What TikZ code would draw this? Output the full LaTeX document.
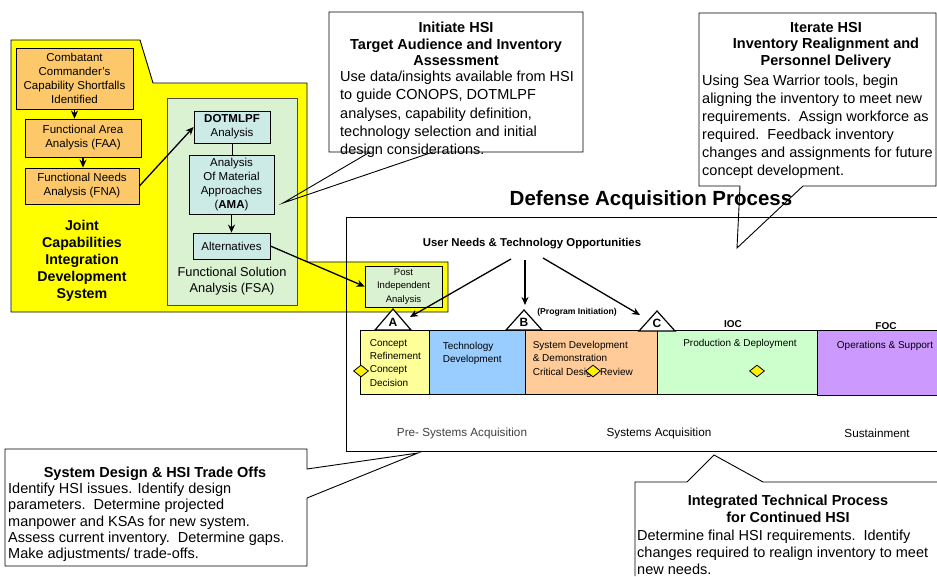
\documentclass[tikz,border=0pt]{standalone}
\usepackage{fontspec}
\setmainfont{Liberation Sans}
\usepackage{xcolor}
\usepackage{tikz}
\usetikzlibrary{calc, arrows.meta, positioning, shapes.geometric}

\definecolor{jcidsyellow}{HTML}{FFFF00}
\definecolor{taskorange}{HTML}{FCC86A}
\definecolor{fsagreen}{HTML}{DAF2D2}
\definecolor{fsacyan}{HTML}{CDEBE6}
\definecolor{crcol}{HTML}{FFFF99}
\definecolor{tdcol}{HTML}{99CCFF}
\definecolor{sddcol}{HTML}{FFCC99}
\definecolor{pdcol}{HTML}{CCFFCC}
\definecolor{oscol}{HTML}{CC99FF}

\begin{document}
\begin{tikzpicture}[x=1pt, y=-1pt, >={Stealth[length=8pt, width=7pt]}]
		\tikzstyle{task} = [draw=black, line width=0.8pt, fill=taskorange, align=center, inner sep=0pt, font=\fontsize{11.5}{14}\selectfont]
		\tikzstyle{fsabox} = [draw=black!70, line width=0.8pt, fill=fsagreen, inner sep=0pt]
		\tikzstyle{study} = [draw=black, line width=0.8pt, fill=fsacyan, align=center, inner sep=0pt, font=\fontsize{11.5}{14}\selectfont]
		\tikzstyle{phase} = [draw=black, line width=0.8pt, inner sep=0pt, minimum height=64pt]
		\tikzstyle{phasetxt} = [inner sep=0pt, align=left, anchor=north west, font=\fontsize{10}{13.3}\selectfont]
		\tikzstyle{phaselbl} = [inner sep=0pt, font=\fontsize{10}{12}\selectfont]
		\tikzstyle{stage} = [inner sep=0pt, font=\fontsize{11.7}{14}\selectfont]
		\tikzstyle{milestone} = [draw=black, line width=1.2pt, fill=white]
		\tikzstyle{mslabel} = [inner sep=0pt, font=\bfseries\fontsize{12}{12}\selectfont]
		\tikzstyle{review} = [diamond, draw=black, line width=0.8pt, fill=yellow, inner sep=0pt, minimum width=15pt, minimum height=12pt]
		\tikzstyle{callout} = [draw=black, line width=0.9pt]
		\tikzstyle{calhead} = [inner sep=0pt, align=center, font=\bfseries\fontsize{14.5}{16.5}\selectfont]
		\tikzstyle{calbody} = [inner sep=0pt, align=left, anchor=north west, font=\fontsize{14.5}{17.5}\selectfont]
		\tikzstyle{arrow} = [line width=1.3pt, ->]
		
		\useasboundingbox (0,0) rectangle (937,576);
		
		% JCIDS
		\draw[line width=0.9pt, fill=jcidsyellow] (11,40) -- (140,40) -- (153,83) -- (307,83) -- (307,262) -- (448,262) -- (448,312) -- (11,312) -- cycle;
		\node[task, minimum width=117pt, minimum height=61pt] 	at (74.5, 78.5) 	(ccsi) 	{Combatant\\Commander's\\Capability Shortfalls\\Identified};
		\node[task, minimum width=116pt, minimum height=38pt] 	at (83, 138) 		(faa) 	{Functional Area\\Analysis (FAA)};
		\node[task, minimum width=114pt, minimum height=36pt] 	at (82, 186) 		(fna) 	{Functional Needs\\Analysis (FNA)};
		\node[inner sep=0pt, align=center, font=\bfseries\fontsize{14.2}{17}\selectfont] at (82, 261) (jcidstxt) {Joint\\Capabilities\\Integration\\Development\\System};
		
		\node[fsabox, minimum width=130pt, minimum height=207pt] at (232, 201.5) 	(fsa) 	{};
		\node[inner sep=0pt, align=center, font=\fontsize{12.8}{16.5}\selectfont] at (232, 281) (fsatxt) {Functional Solution\\Analysis (FSA)};
		\node[study, minimum width=76pt, minimum height=32pt] 	at (232, 127) 		(dotmlpf) 	{\textbf{DOTMLPF}\\Analysis};
		\node[study, minimum width=85pt, minimum height=59pt] 	at (231.5, 184.5) 	(ama) 	{Analysis\\Of Material\\Approaches\\(\textbf{AMA})};
		\node[study, minimum width=77pt, minimum height=26pt] 	at (231.5, 246) 	(alt) 	{Alternatives};
		\node[study, fill=fsagreen, minimum width=77pt, minimum height=41pt, font=\fontsize{9.5}{13.5}\selectfont] at (403.5, 286.5) (post) {Post\\Independent\\Analysis};
		
		\draw[arrow] (ccsi.south) -- (ccsi.south |- faa.north);
		\draw[arrow] (faa.south) -- (faa.south |- fna.north);
		\draw[arrow] (fna.east) -- (dotmlpf.west);
		\draw[line width=1pt] (dotmlpf.south) -- (dotmlpf.south |- ama.north);
		\draw[arrow] (ama.south) -- (ama.south |- alt.north);
		\draw[arrow] (alt.east) -- (post.west);
		
		% Defense acquisition process
		\node[inner sep=0pt, font=\bfseries\fontsize{20.5}{24}\selectfont] at (651, 200) (dap) {Defense Acquisition Process};
		\draw[line width=0.9pt] (937,217) -- (346,217) -- (346,451) -- (937,451);
		\node[inner sep=0pt, font=\bfseries\fontsize{11.4}{13}\selectfont] at (532, 244) (userneeds) {User Needs \& Technology Opportunities};
		
		\node[phase, fill=crcol, minimum width=69pt] 	at (394.5, 362.5) 	(cr) 	{};
		\node[phase, fill=tdcol, minimum width=96pt] 	at (477, 362.5) 	(td) 	{};
		\node[phase, fill=sddcol, minimum width=132pt] 	at (591, 362.5) 	(sdd) 	{};
		\node[phase, fill=pdcol, minimum width=161pt] 	at (737.5, 362.5) 	(pd) 	{};
		\node[phase, draw=none, fill=oscol, minimum width=119pt] at (877.5, 362.5) (os) {};
		\draw[line width=0.8pt] (os.north east) -- (os.north west) -- (os.south west) -- (os.south east);
		
		\node[phasetxt] at ([shift={(10,9)}]cr.north west) 	(crtxt) 	{Concept\\Refinement\\Concept\\Decision};
		\node[phasetxt] at ([shift={(14,12)}]td.north west) 	(tdtxt) 	{Technology\\Development};
		\node[phasetxt] at ([shift={(8,11)}]sdd.north west) 	(sddtxt) 	{System Development\\\& Demonstration\\Critical Design Review};
		\node[phaselbl] at (740, 344) 	(pdtxt) 	{Production \& Deployment};
		\node[phaselbl] at (885, 346) 	(ostxt) 	{Operations \& Support};
		
		\node[review] at (361, 371) 	(dcd) 	{};
		\node[review] at (593, 371) 	(dcdr) 	{};
		\node[review] at (757, 371) 	(dpd) 	{};
		
		\draw[milestone] (375,330) -- (393,309) -- (411,330) -- cycle;
		\draw[milestone] (506,330) -- (524,310) -- (542,330) -- cycle;
		\draw[milestone] (639,331) -- (657,311) -- (675,331) -- cycle;
		\node[mslabel] at (393, 322) 	(msa) 	{A};
		\node[mslabel] at (524, 322.5) 	(msb) 	{B};
		\node[mslabel] at (657, 323.5) 	(msc) 	{C};
		\node[inner sep=0pt, font=\bfseries\fontsize{8.6}{10}\selectfont] at (577, 312) (progint) {(Program Initiation)};
		\node[inner sep=0pt, font=\bfseries\fontsize{10}{12}\selectfont] at (733, 324) (ioc) {IOC};
		\node[inner sep=0pt, font=\bfseries\fontsize{10}{12}\selectfont] at (886, 326) (foc) {FOC};
		
		\coordinate (una) at (511, 259);
		\coordinate (unb) at (525, 260);
		\coordinate (unc) at (543, 258);
		\coordinate (toa) at (410, 317);
		\coordinate (tob) at (525, 305);
		\coordinate (toc) at (640, 315);
		\draw[arrow] (una) -- (toa);
		\draw[arrow] (unb) -- (tob);
		\draw[arrow] (unc) -- (toc);
		
		\node[stage, text=black!75] at (462, 433) 	(presys) 	{Pre- Systems Acquisition};
		\node[stage] 	at (659, 433) 	(sysacq) 	{Systems Acquisition};
		\node[stage] 	at (877, 433) 	(sustain) 	{Sustainment};
		
		% callouts
		\draw[callout] (329,12) -- (583,12) -- (583,152) -- (433,152) -- (283,203) -- (370,152) -- (329,152) -- cycle;
		\node[calhead, anchor=north] at (456, 22) (ihead) {Initiate HSI\\Target Audience and Inventory\\Assessment};
		\node[calbody, font=\fontsize{14.5}{18.2}\selectfont] at (340, 71) (ibody) {Use data/insights available from HSI\\to guide CONOPS, DOTMLPF\\analyses, capability definition,\\technology selection and initial\\design considerations.};
		
		\draw[callout] (699,13) -- (936,13) -- (936,186) -- (803,186) -- (737,248) -- (740,186) -- (699,186) -- cycle;
		\node[calhead, anchor=north] at (826, 22) (ithead) {Iterate HSI\\Inventory Realignment and\\Personnel Delivery};
		\node[calbody, font=\fontsize{14.5}{18}\selectfont] at (702, 75) (itbody) {Using Sea Warrior tools, begin\\aligning the inventory to meet new\\requirements.\ \ Assign workforce as\\required.\ \ Feedback inventory\\changes and assignments for future\\concept development.};
		
		\draw[callout] (5,449) -- (307,449) -- (307,469) -- (418,453) -- (307,498) -- (307,566) -- (5,566) -- cycle;
		\node[calhead, anchor=north] at (155, 467) (sdhead) {System Design \& HSI Trade Offs};
		\node[calbody, font=\fontsize{14.5}{16.2}\selectfont] at (8, 483) (sdbody) {Identify HSI issues. Identify design\\parameters.\ \ Determine projected\\manpower and KSAs for new system.\\Assess current inventory.\ \ Determine gaps.\\Make adjustments/ trade-offs.};
		
		\draw[callout] (635,576) -- (635,482) -- (687,482) -- (714,455) -- (763,482) -- (937,482);
		\node[calhead, anchor=north] at (788, 495) (ithead2) {Integrated Technical Process\\for Continued HSI};
		\node[calbody, font=\fontsize{14.5}{17}\selectfont] at (637, 530) (itpbody) {Determine final HSI requirements.\ \ Identify\\changes required to realign inventory to meet\\new needs.};
	\end{tikzpicture}
\end{document}
